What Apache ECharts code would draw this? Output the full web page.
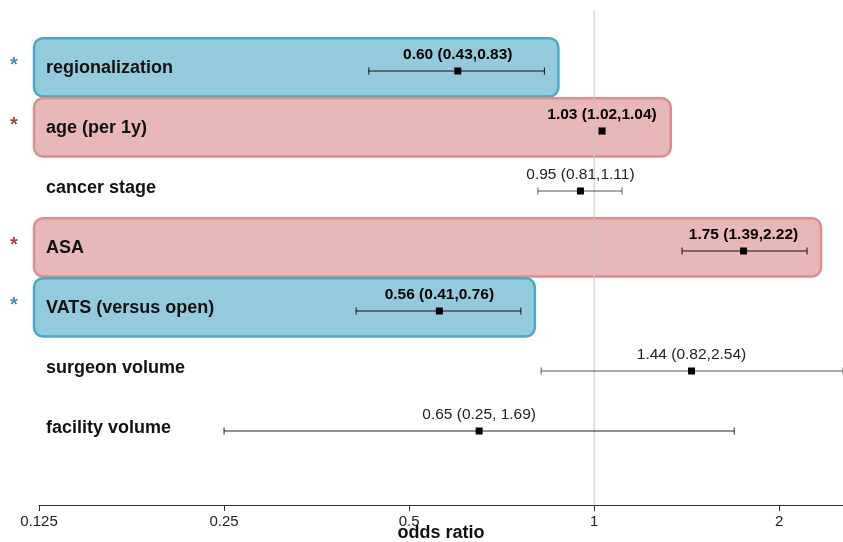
<!DOCTYPE html>
<html>
<head>
<meta charset="utf-8">
<script src="https://cdn.jsdelivr.net/npm/echarts@6/dist/echarts.min.js"></script>
<style>
  html, body { margin: 0; padding: 0; background: #fff; }
  #chart-container { width: 843px; height: 542px; }
</style>
</head>
<body>
<div id="chart-container"></div>
<script>
// forest plot data
let rowLabels = ["regionalization", "age (per 1y)", "cancer stage", "ASA", "VATS (versus open)", "surgeon volume", "facility volume"];
let oddsRatio = [0.60, 1.03, 0.95, 1.75, 0.56, 1.44, 0.65];
let ciLower = [0.43, 1.02, 0.81, 1.39, 0.41, 0.82, 0.25];
let ciUpper = [0.83, 1.04, 1.11, 2.22, 0.76, 2.54, 1.69];
let ciText = ["0.60 (0.43,0.83)", "1.03 (1.02,1.04)", "0.95 (0.81,1.11)", "1.75 (1.39,2.22)", "0.56 (0.41,0.76)", "1.44 (0.82,2.54)", "0.65 (0.25, 1.69)"];
// significance: "lower" (protective), "higher" (risk), "" (not significant)
let effect = ["lower", "higher", "", "higher", "lower", "", ""];
let xTicks = [0.125, 0.25, 0.5, 1, 2];

let FONT = "Liberation Sans, Arial, sans-serif";
let boxStyle = {
    lower: { fill: "#94cbdc", stroke: "#4ba9c6", star: "#3f97b9" },
    higher: { fill: "#e8b8b8", stroke: "#d98f8f", star: "#a84848" },
};

let measureCtx = document.createElement("canvas").getContext("2d");
function textWidth(txt, bold) {
    measureCtx.font = (bold ? "bold " : "") + "15.5px " + FONT;
    return measureCtx.measureText(txt).width;
}

let dom = document.getElementById("chart-container");
let myChart = echarts.init(dom, null, { renderer: "canvas" });

let rowData = rowLabels.map((name, i) => [ciLower[i], ciUpper[i], oddsRatio[i], i + 1]);

function renderBox(params, api) {
    let i = params.dataIndex;
    let kind = effect[i];
    let v = api.value(3);
    let yTop = api.coord([1, v - 0.53])[1];
    let yBot = api.coord([1, v + 0.44])[1];
    let xLeft = api.coord([xTicks[0], v])[0] - 5;
    let children = [];
    if (kind) {
        let st = boxStyle[kind];
        let xUp = api.coord([api.value(1), v])[0];
        let xOr = api.coord([api.value(2), v])[0];
        let xRight = Math.max(xUp, xOr + textWidth(ciText[i], true) / 2) + 14;
        children.push({
            type: "rect",
            shape: { x: xLeft, y: yTop, width: xRight - xLeft, height: yBot - yTop, r: 9 },
            style: { fill: st.fill, stroke: st.stroke, lineWidth: 2.5 },
        });
        children.push({
            type: "text",
            style: {
                x: 14, y: (yTop + yBot) / 2 - 1.5, text: "*", fill: st.star,
                font: "bold 20px " + FONT, align: "center", verticalAlign: "middle",
            },
        });
    }
    children.push({
        type: "text",
        style: {
            x: xLeft + 12, y: api.coord([1, v - 0.025])[1], text: rowLabels[i], fill: "#111",
            font: "bold 18px " + FONT, align: "left", verticalAlign: "middle",
        },
    });
    return { type: "group", children: children };
}

function renderCI(params, api) {
    let i = params.dataIndex;
    let sig = !!effect[i];
    let v = api.value(3);
    let lo = api.coord([api.value(0), v]);
    let hi = api.coord([api.value(1), v]);
    let pt = api.coord([api.value(2), v]);
    let col = sig ? "#111" : (i === 6 ? "#222" : "#555");
    let y = pt[1] + 1;
    return {
        type: "group",
        children: [
            { type: "line", shape: { x1: lo[0], y1: y, x2: hi[0], y2: y }, style: { stroke: col, lineWidth: 1.2 } },
            { type: "line", shape: { x1: lo[0], y1: y - 3.5, x2: lo[0], y2: y + 3.5 }, style: { stroke: col, lineWidth: 1 } },
            { type: "line", shape: { x1: hi[0], y1: y - 3.5, x2: hi[0], y2: y + 3.5 }, style: { stroke: col, lineWidth: 1 } },
            { type: "rect", shape: { x: pt[0] - 3.5, y: y - 3.5, width: 7, height: 7 }, style: { fill: "#000" } },
            {
                type: "text",
                style: {
                    x: pt[0], y: y - 16.5, text: ciText[i], fill: sig ? "#000" : "#222",
                    font: (sig ? "bold " : "") + "15.5px " + FONT, align: "center", verticalAlign: "middle",
                },
            },
        ],
    };
}

let option = {
    animation: false,
    grid: { left: 39, right: 0, top: 10, bottom: 37, containLabel: false, outerBoundsMode: "none" },
    xAxis: {
        type: "log",
        logBase: 2,
        min: 0.125,
        max: 2.54,
        position: "bottom",
        name: "odds ratio",
        nameLocation: "middle",
        nameGap: 28,
        nameMoveOverlap: false,
        nameTextStyle: { fontFamily: FONT, fontWeight: "bold", fontSize: 18, color: "#111", verticalAlign: "middle" },
        axisLine: { onZero: false, lineStyle: { color: "#333", width: 1.2 } },
        axisTick: { length: 6, lineStyle: { color: "#333" } },
        axisLabel: {
            fontFamily: FONT, fontSize: 15, color: "#222", margin: 9,
            showMaxLabel: false,
            formatter: (val) => String(+val.toPrecision(6)),
        },
        splitLine: { show: false },
    },
    yAxis: { type: "value", min: 0, max: 8.25, inverse: true, show: false },
    series: [
        {
            type: "custom",
            renderItem: renderBox,
            data: rowData,
            encode: { x: [0, 1, 2], y: 3 },
            z: 1,
            silent: true,
        },
        {
            type: "line",
            data: [[1, 0], [1, 8.25]],
            symbol: "none",
            lineStyle: { color: "#c8c8c8", width: 1 },
            z: 2,
            silent: true,
        },
        {
            type: "custom",
            renderItem: renderCI,
            data: rowData,
            encode: { x: [0, 1, 2], y: 3 },
            z: 3,
            silent: true,
        },
    ],
};

myChart.setOption(option);
window.addEventListener("resize", myChart.resize);
</script>
</body>
</html>
